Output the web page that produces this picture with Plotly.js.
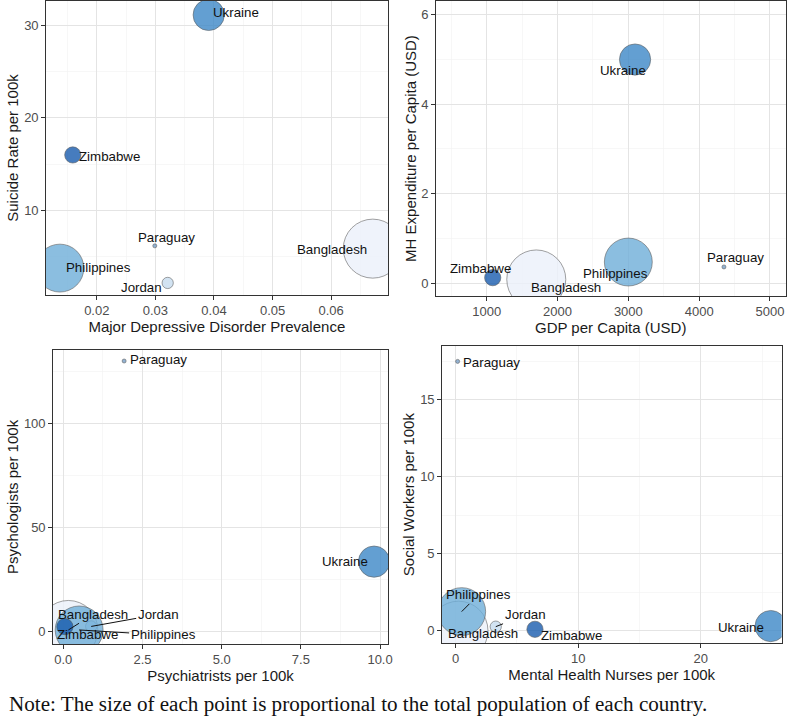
<!DOCTYPE html>
<html>
<head>
<meta charset="utf-8">
<script src="https://cdn.plot.ly/plotly-3.0.1.min.js"></script>
<style>html,body{margin:0;padding:0;background:#fff;}#chart{width:790px;height:717px;}</style>
</head>
<body>
<div id="chart"></div>
<script>
// ---- data (order: Bangladesh, Jordan, Paraguay, Philippines, Ukraine, Zimbabwe) ----
const countries = ["Bangladesh", "Jordan", "Paraguay", "Philippines", "Ukraine", "Zimbabwe"];
const population = [161, 9.5, 6.8, 105, 44.6, 14.4];           // millions
const mddPrevalence = [0.0671, 0.0321, 0.0299, 0.0137, 0.0391, 0.0159];
const suicideRate = [5.9, 2.2, 6.2, 3.8, 31.1, 16.0];
const gdpPerCapita = [1700, null, 4350, 3000, 3095, 1085];
const mhExpenditure = [0.08, null, 0.36, 0.47, 5.0, 0.12];
const psychiatrists = [0.16, 0.88, 1.92, 0.5, 9.81, 0.05];
const psychologists = [0.5, 2.2, 130, 0.5, 33.4, 2.1];
const nurses = [0.23, 3.27, 0.16, 0.49, 25.7, 6.47];
const socialWorkers = [0.0, 0.26, 17.5, 1.24, 0.3, 0.09];

// ---- styles ----
const fillColors = ["rgb(236,241,251)", "rgb(199,221,240)", "rgb(120,160,200)",
                    "rgb(111,174,217)", "rgb(61,136,199)", "rgb(24,92,174)"];
const FONT = "Liberation Sans, Arial, sans-serif";
const pmin = Math.min(...population), pmax = Math.max(...population);
const diam = population.map(p => 4 + 55 * Math.sqrt((p - pmin) / (pmax - pmin)));

function makeTrace(xs, ys, xa, ya) {
  return {
    type: "scatter", mode: "markers", x: xs, y: ys, xaxis: xa, yaxis: ya,
    text: countries, hoverinfo: "text+x+y", showlegend: false,
    marker: { size: diam, sizemode: "diameter", color: fillColors, opacity: 0.8,
              line: { color: "#3a3a3a", width: 0.6 } }
  };
}
const data = [
  makeTrace(mddPrevalence, suicideRate, "x", "y"),
  makeTrace(gdpPerCapita, mhExpenditure, "x2", "y2"),
  makeTrace(psychiatrists, psychologists, "x3", "y3"),
  makeTrace(nurses, socialWorkers, "x4", "y4")
];

function axis(domain, range, dtick, minorDtick, title, anchor, extra, standoff) {
  return Object.assign({
    domain: domain, range: range, dtick: dtick, tick0: 0, anchor: anchor,
    showgrid: true, gridcolor: "#e4e4e4", gridwidth: 1, zeroline: false,
    minor: { dtick: minorDtick, tick0: 0, showgrid: true, gridcolor: "#f2f2f2", gridwidth: 0.6 },
    showline: true, mirror: true, linecolor: "#333333", linewidth: 1,
    ticks: "outside", ticklen: 3.5, tickcolor: "#333333", tickwidth: 1,
    tickfont: { family: FONT, size: 13, color: "#4d4d4d" },
    title: { text: title, font: { family: FONT, size: 15, color: "#1a1a1a" }, standoff: standoff }
  }, extra || {});
}
const W = 790, H = 717;
const dx = (a, b) => [a / W, b / W];
const dy = (top, bottom) => [1 - bottom / H, 1 - top / H];

// label offsets (pixels) relative to each point: [dx, dy(up positive), arrow?]
const lab1 = [[-41, -0.7], [-26.6, -4.3], [12, 8.7], [38.3, 0.4], [27.7, 2.3], [36.3, -1.3]];
const lab2 = [[30, -8.3], null, [11.7, 9], [-13.3, -11.6], [-12.3, -11], [-12.7, 9.4]];
const lab3 = [[25, 15.7, true], [67, 12, true], [34.3, 1.7], [84, -5, true], [-29, 0], [23, -8]];
const lab4 = [[24.8, -3.3], [29.3, 11.7, true], [34, -1.6], [16.6, 16.7, true], [-29.3, -1.3], [36.7, -5.7]];

function labels(xs, ys, offs, xr, yr) {
  const out = [];
  countries.forEach((c, i) => {
    const o = offs[i];
    if (!o || xs[i] == null || ys[i] == null) return;
    const base = { x: xs[i], y: ys[i], xref: xr, yref: yr, text: c,
      font: { family: FONT, size: 13.3, color: "#111" } };
    if (o[2]) {
      out.push(Object.assign(base, { showarrow: true, arrowhead: 0, arrowwidth: 1,
        arrowcolor: "#111", ax: o[0], ay: -o[1], standoff: 0, startstandoff: 0 }));
    } else {
      out.push(Object.assign(base, { showarrow: false, xshift: o[0], yshift: o[1] }));
    }
  });
  return out;
}

const annotations = [].concat(
  labels(mddPrevalence, suicideRate, lab1, "x", "y"),
  labels(gdpPerCapita, mhExpenditure, lab2, "x2", "y2"),
  labels(psychiatrists, psychologists, lab3, "x3", "y3"),
  labels(nurses, socialWorkers, lab4, "x4", "y4"),
  [{ xref: "paper", yref: "paper", x: 7 / W, y: 1 - 704 / H, xanchor: "left", yanchor: "middle",
     showarrow: false,
     text: "Note: The size of each point is proportional to the total population of each country.",
     font: { family: "Liberation Serif, Times New Roman, serif", size: 21.1, color: "#111" } }]
);

const layout = {
  width: W, height: H, margin: { l: 0, r: 0, t: 0, b: 0 },
  paper_bgcolor: "#fff", plot_bgcolor: "#fff", showlegend: false,
  xaxis: axis(dx(45.7, 388), [0.01128, 0.0697], 0.01, 0.005, "Major Depressive Disorder Prevalence", "y", null, 3),
  yaxis: axis(dy(1, 295), [0.9, 32.6], 10, 5, "Suicide Rate per 100k", "x", null, 1),
  xaxis2: axis(dx(435.7, 785.7), [280, 5222], 1000, 500, "GDP per Capita (USD)", "y2", null, 3),
  yaxis2: axis(dy(1, 296), [-0.29, 6.31], 2, 1, "MH Expenditure per Capita (USD)", "x2", null, 1),
  xaxis3: axis(dx(52.7, 388.3), [-0.335, 10.26], 2.5, 1.25, "Psychiatrists per 100k", "y3", { tickformat: ".1f" }, 3),
  yaxis3: axis(dy(350, 644), [-6.26, 135.3], 50, 25, "Psychologists per 100k", "x3", null, 1),
  xaxis4: axis(dx(441.7, 781.7), [-1.14, 26.6], 10, 5, "Mental Health Nurses per 100k", "y4", null, 3),
  yaxis4: axis(dy(346, 643.3), [-0.82, 18.5], 5, 2.5, "Social Workers per 100k", "x4", null, 1),
  annotations: annotations
};

Plotly.newPlot("chart", data, layout, { displayModeBar: false, staticPlot: true });
</script>
</body>
</html>
